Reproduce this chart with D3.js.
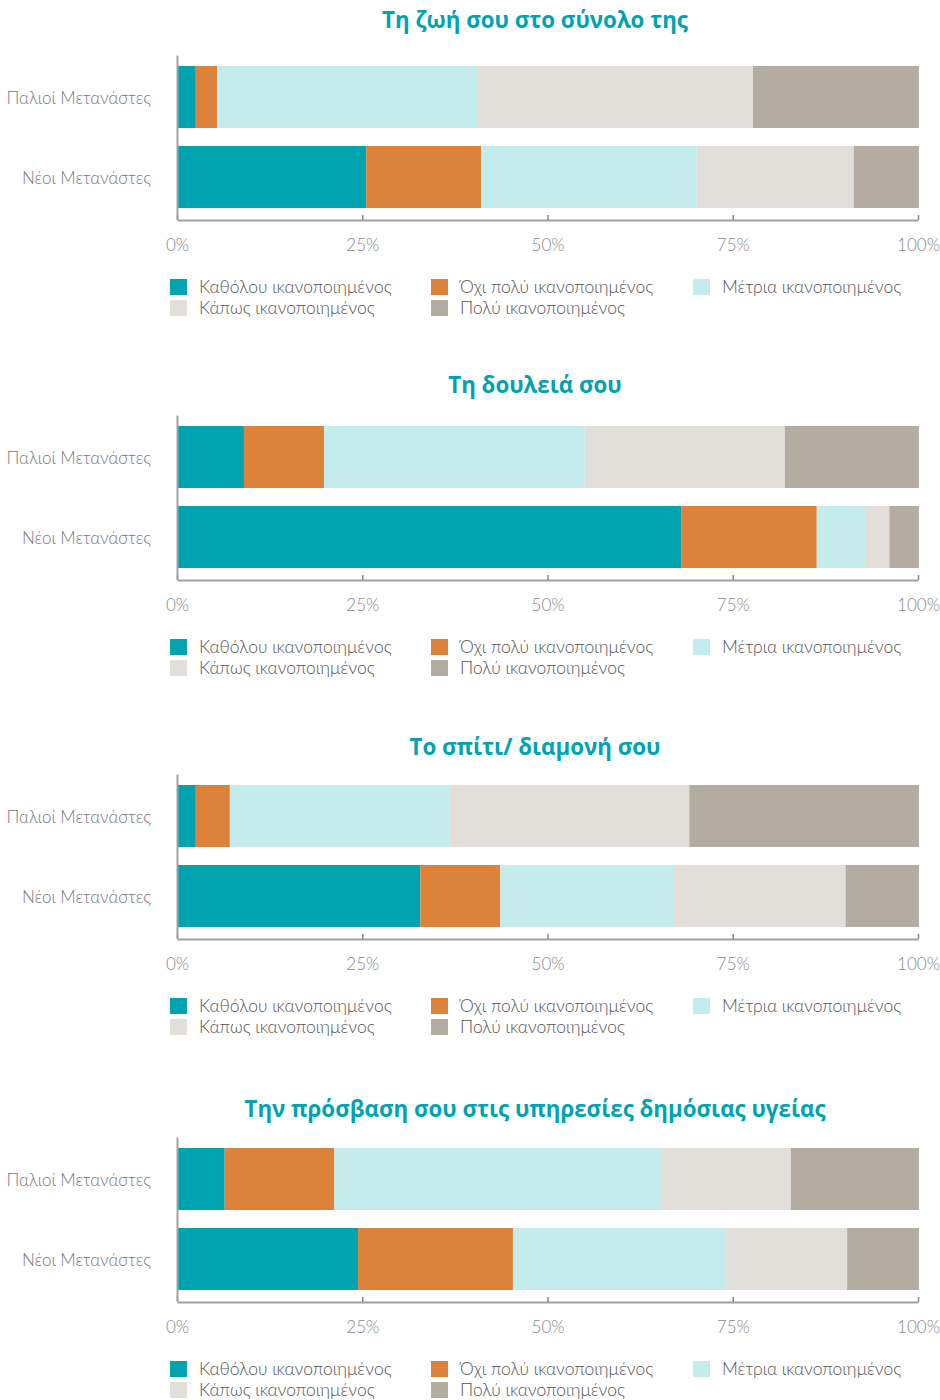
<!DOCTYPE html>
<html>
<head>
<meta charset="utf-8">
<script src="https://cdn.jsdelivr.net/npm/d3@7"></script>
<style>
  body { margin: 0; background: #fff; }
  text { font-family: Lato, "Open Sans", sans-serif; }
</style>
</head>
<body>
<div id="chart"></div>
<script>
// data
const titles = [
  "Τη ζωή σου στο σύνολο της",
  "Τη δουλειά σου",
  "Το σπίτι/ διαμονή σου",
  "Την πρόσβαση σου στις υπηρεσίες δημόσιας υγείας"
];
const groups = ["Παλιοί Μετανάστες", "Νέοι Μετανάστες"];
const categories = [
  "Καθόλου ικανοποιημένος",
  "Όχι πολύ ικανοποιημένος",
  "Μέτρια ικανοποιημένος",
  "Κάπως ικανοποιημένος",
  "Πολύ ικανοποιημένος"
];
// percentages per panel: [old, new], each in category order
const lifeValues    = [[2.4, 2.9, 35.2, 37.1, 22.4], [25.4, 15.5, 29.1, 21.2, 8.8]];
const workValues    = [[8.9, 10.8, 35.2, 27.0, 18.1], [67.9, 18.3, 6.5, 3.3, 4.0]];
const homeValues    = [[2.4, 4.6, 29.6, 32.4, 31.0], [32.7, 10.8, 23.3, 23.3, 9.9]];
const healthValues  = [[6.3, 14.8, 44.2, 17.4, 17.3], [24.3, 20.9, 28.8, 16.3, 9.7]];
const panelValues = [lifeValues, workValues, homeValues, healthValues];
const ticks = [0, 25, 50, 75, 100];

const colors = ["#00a3b0", "#dc823a", "#c5ecec", "#e2deda", "#b4aca1"];

// layout
const w = 940, h = 1400;
const axisYs = [220, 580, 939, 1302];
const titleYs = [28, 393, 755, 1117];
const left = 177, right = 918;

const svg = d3.select("#chart").append("svg")
  .attr("width", w).attr("height", h);

const x = d3.scaleLinear().domain([0, 100]).range([left, right]);
const color = d3.scaleOrdinal().domain(categories).range(colors);

panelValues.forEach((vals, p) => {
  const axisY = axisYs[p];
  const g = svg.append("g");

  const y = d3.scaleBand()
    .domain(groups)
    .range([axisY - 165, axisY - 1])
    .paddingInner(0.225)
    .paddingOuter(0.1375);

  // title
  g.append("text")
    .attr("x", 535)
    .attr("y", titleYs[p])
    .attr("text-anchor", "middle")
    .style("font-family", "'Open Sans', sans-serif")
    .style("font-weight", 700)
    .style("font-size", "22.3px")
    .style("fill", "#00a3b0")
    .text(titles[p]);

  // stacked bars
  const rows = groups.map((grp, i) => {
    const r = { group: grp };
    categories.forEach((c, j) => r[c] = vals[i][j]);
    return r;
  });
  const stacked = d3.stack().keys(categories)(rows);

  g.selectAll("g.layer")
    .data(stacked)
    .enter().append("g")
    .attr("class", "layer")
    .attr("fill", d => color(d.key))
    .selectAll("rect")
    .data(d => d)
    .enter().append("rect")
    .attr("x", d => x(d[0]) + 1)
    .attr("y", d => y(d.data.group))
    .attr("width", d => Math.max(0, x(d[1]) - x(d[0])))
    .attr("height", y.bandwidth());

  // x axis
  const xAxis = d3.axisBottom(x)
    .tickValues(ticks)
    .tickFormat(d => d + "%")
    .tickSize(-5)
    .tickSizeOuter(0)
    .tickPadding(19);

  const xg = g.append("g")
    .attr("transform", "translate(0," + axisY + ")")
    .call(xAxis);
  xg.select(".domain").attr("stroke", "#a0a0a0").attr("stroke-width", 2);
  xg.selectAll(".tick line").attr("stroke", "#888").attr("stroke-width", 1.5);
  xg.selectAll("text")
    .style("font-size", "17px")
    .style("font-weight", 300)
    .style("fill", "#888");

  // y axis
  const yAxis = d3.axisLeft(y).tickSize(0).tickPadding(26);
  const yg = g.append("g")
    .attr("transform", "translate(" + left + ",0)")
    .call(yAxis);
  yg.select(".domain").attr("stroke", "#a0a0a0").attr("stroke-width", 2);
  yg.selectAll("text")
    .attr("dy", "0.42em")
    .style("font-size", "17px")
    .style("font-weight", 300)
    .style("fill", "#777");

  // legend
  const legendCols = [170, 431, 693];
  const legend = g.append("g")
    .attr("transform", "translate(0," + (axisY + 59) + ")");
  const item = legend.selectAll("g.item")
    .data(categories)
    .enter().append("g")
    .attr("class", "item")
    .attr("transform", (d, i) => "translate(" + legendCols[i % 3] + "," + (Math.floor(i / 3) * 21) + ")");
  item.append("rect")
    .attr("width", 17)
    .attr("height", 16)
    .attr("fill", d => color(d));
  item.append("text")
    .attr("x", 29)
    .attr("y", 8)
    .attr("dy", "0.35em")
    .style("font-size", "17.5px")
    .style("font-weight", 300)
    .style("fill", "#555")
    .text(d => d);
});
</script>
</body>
</html>
